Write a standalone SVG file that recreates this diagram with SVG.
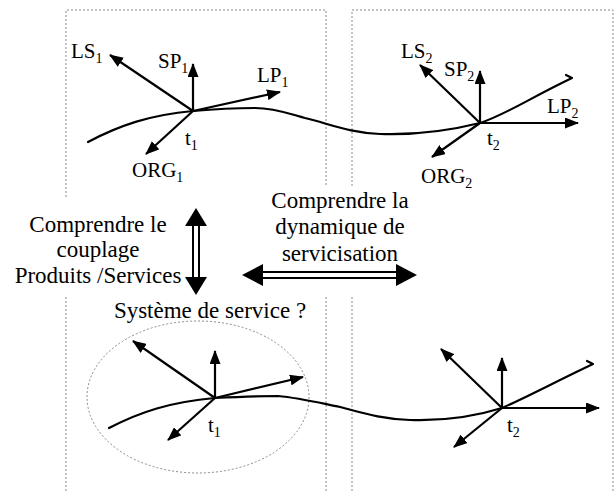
<svg xmlns="http://www.w3.org/2000/svg" width="615" height="493" viewBox="0 0 615 493">
<style>
.frame{fill:none;stroke:#8a8a8a;stroke-width:1;stroke-dasharray:2,2}
.ax{fill:none;stroke:#000;stroke-width:2.2;marker-end:url(#ah)}
.crv{fill:none;stroke:#000;stroke-width:2.2;stroke-linejoin:round;stroke-linecap:round}
.lbl{font-family:"Liberation Serif","Times New Roman",serif;font-size:21px;fill:#000}
.mid{font-family:"Liberation Serif","Times New Roman",serif;font-size:23px;fill:#000;text-anchor:middle}
.sub{font-size:14px}
.dbl{stroke:#000;stroke-width:2}
</style>
<defs>
<marker id="ah" markerUnits="userSpaceOnUse" markerWidth="15" markerHeight="11" refX="13" refY="5.5" orient="auto">
<path d="M0,0 L14,5.5 L0,11 z" fill="#000"/>
</marker>
</defs>
<rect width="615" height="493" fill="#fff"/>
<g id="frames">
<path class="frame" d="M66,197 V10 H326 V186 M66,297 V493 M326,297 V493"/>
<path class="frame" d="M352,186 V10 H613 V493 M352,297 V493"/>
<ellipse class="frame" cx="198" cy="397" rx="111" ry="76"/>
</g>
<g id="connectors">
<path class="crv" d="M88,142 C120,125 150,115 193,111 C215,109 235,108 255,108 C275,108 290,114 305,118 C330,124 350,133 380,134 C410,135 440,133 480,123 C505,115 530,98 572,78 L566,75"/>
<path class="crv" d="M109,428 C140,412 170,402 215,398 C235,397 260,396 278,396 C300,398 320,403 340,407 C360,412 380,419 410,420 C440,421 470,418 502,408 C525,398 555,382 593,364 L587,361"/>
</g>
<g id="frame-t1-top">
<line class="ax" x1="193" y1="111" x2="110" y2="55"/>
<line class="ax" x1="193" y1="111" x2="193" y2="64"/>
<line class="ax" x1="193" y1="111" x2="280" y2="92"/>
<line class="ax" x1="193" y1="111" x2="146" y2="154"/>
<text class="lbl" x="71" y="58">LS<tspan class="sub" dy="5">1</tspan></text>
<text class="lbl" x="158" y="68">SP<tspan class="sub" dy="5">1</tspan></text>
<text class="lbl" x="257" y="82">LP<tspan class="sub" dy="5">1</tspan></text>
<text class="lbl" x="132" y="177">ORG<tspan class="sub" dy="5">1</tspan></text>
<text class="lbl" x="185" y="145">t<tspan class="sub" dy="5">1</tspan></text>
</g>
<g id="frame-t2-top">
<line class="ax" x1="480" y1="123" x2="420" y2="65"/>
<line class="ax" x1="480" y1="123" x2="480" y2="71"/>
<line class="ax" x1="480" y1="123" x2="578" y2="123"/>
<line class="ax" x1="480" y1="123" x2="432" y2="157"/>
<text class="lbl" x="401" y="58">LS<tspan class="sub" dy="5">2</tspan></text>
<text class="lbl" x="444" y="76">SP<tspan class="sub" dy="5">2</tspan></text>
<text class="lbl" x="547" y="113">LP<tspan class="sub" dy="5">2</tspan></text>
<text class="lbl" x="421" y="183">ORG<tspan class="sub" dy="5">2</tspan></text>
<text class="lbl" x="487" y="145">t<tspan class="sub" dy="5">2</tspan></text>
</g>
<g id="frame-t1-bottom">
<line class="ax" x1="215" y1="398" x2="133" y2="341"/>
<line class="ax" x1="215" y1="398" x2="215" y2="351"/>
<line class="ax" x1="215" y1="398" x2="303" y2="377"/>
<line class="ax" x1="215" y1="398" x2="168" y2="440"/>
<text class="lbl" x="208" y="432">t<tspan class="sub" dy="5">1</tspan></text>
</g>
<g id="frame-t2-bottom">
<line class="ax" x1="502" y1="408" x2="441" y2="349"/>
<line class="ax" x1="502" y1="408" x2="502" y2="358"/>
<line class="ax" x1="502" y1="408" x2="599" y2="408"/>
<line class="ax" x1="502" y1="408" x2="454" y2="447"/>
<text class="lbl" x="507" y="432">t<tspan class="sub" dy="5">2</tspan></text>
</g>
<g id="couplage">
<text class="mid" x="98" y="232">Comprendre le</text>
<text class="mid" x="98" y="257">couplage</text>
<text class="mid" x="98" y="283">Produits /Services</text>
<path class="dbl" d="M193,225 V278 M199,225 V278"/>
<polygon points="196,208 207,226 185,226"/>
<polygon points="196,295 207,277 185,277"/>
</g>
<g id="systeme">
<text class="mid" x="210" y="318">Système de service ?</text>
</g>
<g id="dynamique">
<text class="mid" x="340" y="208">Comprendre la</text>
<text class="mid" x="340" y="234">dynamique de</text>
<text class="mid" x="340" y="261">servicisation</text>
<path class="dbl" d="M261,272 H397 M261,278 H397"/>
<polygon points="242,275 263,264 263,286"/>
<polygon points="417,275 396,264 396,286"/>
</g>
</svg>
